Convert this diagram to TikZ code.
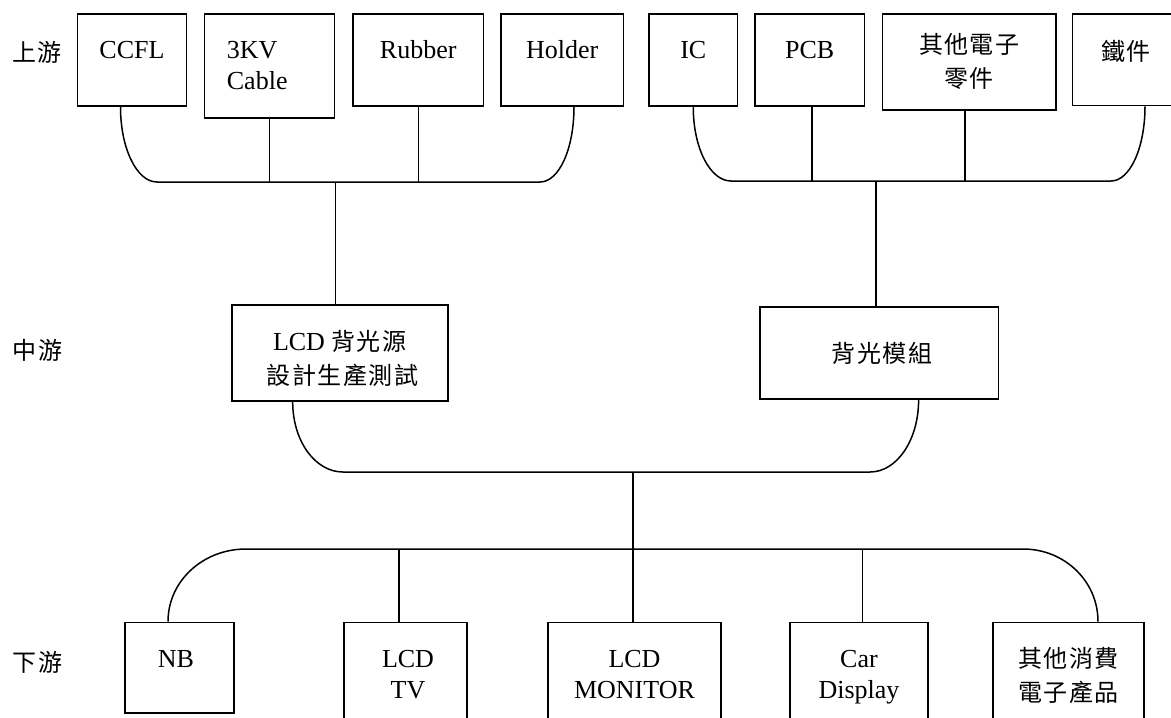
\documentclass[tikz,border=0pt]{standalone}
\usepackage{fontspec}
\setmainfont{Liberation Serif}
\newfontfamily\cjk[LetterSpace=6]{Noto Sans CJK TC}
\newcommand\zhtxt[1]{{\cjk\fontsize{24}{30}\selectfont #1}}
\begin{document}
\begin{tikzpicture}[x=1pt,y=-1pt,
  box/.style={draw, line width=1.8pt, inner sep=0pt},
  link/.style={line width=1.5pt},
  lat/.style={font=\fontsize{26}{31}\selectfont, inner sep=0pt, anchor=base},
  cj/.style={font=\cjk\fontsize{24}{30}\selectfont, inner sep=0pt, anchor=base}]
\useasboundingbox (0,0) rectangle (1171,718);
\fill[white] (0,0) rectangle (1171,718);
\clip (0,0) rectangle (1171,718);

% upstream boxes
\node[box, minimum width=109pt,   minimum height=92pt]  (ccfl) at (132,60) {};
\node[box, minimum width=130pt,   minimum height=104pt] (kv)   at (269.5,66) {};
\node[box, minimum width=130.5pt, minimum height=92pt]  (rub)  at (418.25,60) {};
\node[box, minimum width=122.5pt, minimum height=92pt]  (hold) at (562.25,60) {};
\node[box, minimum width=88.5pt,  minimum height=92pt]  (ic)   at (693.25,60) {};
\node[box, minimum width=109.5pt, minimum height=92pt]  (pcb)  at (809.75,60) {};
\node[box, minimum width=173.5pt, minimum height=96pt]  (oth)  at (969.25,62) {};
\node[box, minimum width=107.5pt, minimum height=91.5pt] (iron) at (1126.25,59.75) {};

% midstream boxes
\node[box, minimum width=216pt,   minimum height=96pt]  (lcd)  at (339.7,353) {};
\node[box, minimum width=238.5pt, minimum height=92pt]  (bl)   at (879.25,353) {};

% downstream boxes
\node[box, minimum width=109pt,   minimum height=90.5pt]  (nb)   at (179.5,667.75) {};
\node[box, minimum width=122.7pt, minimum height=107.5pt] (tv)   at (405.35,676.25) {};
\node[box, minimum width=173pt,   minimum height=107.5pt] (mon)  at (634.5,676.25) {};
\node[box, minimum width=138pt,   minimum height=107.5pt] (car)  at (859,676.25) {};
\node[box, minimum width=151.3pt, minimum height=107.5pt] (oth2) at (1068.35,676.25) {};

% texts
\node[cj] (l1) at (37,61) {上游};
\node[cj] (l2) at (37.5,359) {中游};
\node[cj] (l3) at (37.5,671) {下游};

\node[lat] (t1) at (132,58) {CCFL};
\node[lat, anchor=base west] (t2a) at (226.7,58) {3KV};
\node[lat, anchor=base west] (t2b) at (226.7,89) {Cable};
\node[lat] (t3) at (418.25,58) {Rubber};
\node[lat] (t4) at (562.25,58) {Holder};
\node[lat] (t5) at (693.25,58) {IC};
\node[lat] (t6) at (809.75,58) {PCB};
\node[cj] (t7a) at (969.25,53) {其他電子};
\node[cj] (t7b) at (969.25,87) {零件};
\node[cj] (t8) at (1126.25,60) {鐵件};

\node[lat] (t9a) at (339.7,350) {LCD \zhtxt{背光源}};
\node[cj] (t9b) at (342.5,384) {設計生產測試};
\node[cj] (t10) at (882,362) {背光模組};

\node[lat] (t11) at (176,667) {NB};
\node[lat] (t12a) at (408,667) {LCD};
\node[lat] (t12b) at (408,698) {TV};
\node[lat] (t13a) at (634.5,667) {LCD};
\node[lat] (t13b) at (634.5,698) {MONITOR};
\node[lat] (t14a) at (859,667) {Car};
\node[lat] (t14b) at (859,698) {Display};
\node[cj] (t15a) at (1068.35,667) {其他消費};
\node[cj] (t15b) at (1068.35,701) {電子產品};

% junction coordinates
\coordinate (tl1) at (157,182);
\coordinate (tl2) at (540,182);
\coordinate (tlm) at (335.6,182);
\coordinate (tr1) at (731,181);
\coordinate (tr2) at (1111,181);
\coordinate (trm) at (876,181);
\coordinate (m1) at (343,472);
\coordinate (m2) at (870,472);
\coordinate (mm) at (633,472);
\coordinate (b1) at (246,549);
\coordinate (b2) at (1023,549);

% upstream left bracket
\draw[link] ([xshift=-11.5pt]ccfl.south) .. controls +(0,42) and +(-20,0) .. (tl1)
  -- (tl2) .. controls +(19,0) and +(0,42) .. ([xshift=11.75pt]hold.south);
\draw[link] (kv.south) -- (kv.south |- tl1);
\draw[link] (rub.south) -- (rub.south |- tl1);
\draw[link] (tlm) -- (tlm |- lcd.north);

% upstream right bracket
\draw[link] (ic.south) .. controls +(0,41.4) and +(-20.8,0) .. (tr1)
  -- (tr2) .. controls +(18.8,0) and +(0,41.7) .. ([xshift=18.75pt]iron.south);
\draw[link] ([xshift=2.25pt]pcb.south) -- ([xshift=2.25pt]pcb.south |- tr1);
\draw[link] ([xshift=-4.25pt]oth.south) -- ([xshift=-4.25pt]oth.south |- tr1);
\draw[link] (trm) -- (trm |- bl.north);

% midstream bracket
\draw[link] ([xshift=-47pt]lcd.south) .. controls +(0,39.2) and +(-27.8,0) .. (m1)
  -- (m2) .. controls +(26.8,0) and +(0,40.3) .. ([xshift=39.35pt]bl.south);
\draw[link] (mm) -- (mm |- mon.north);

% downstream bracket
\draw[link] ([xshift=-11.5pt]nb.north) .. controls +(0,-40.6) and +(-43,0) .. (b1)
  -- (b2) .. controls +(41.4,0) and +(0,-40.6) .. ([xshift=29.65pt]oth2.north);
\draw[link] ([xshift=-6.35pt]tv.north) -- ([xshift=-6.35pt]tv.north |- b1);
\draw[link] ([xshift=3.6pt]car.north) -- ([xshift=3.6pt]car.north |- b1);
\end{tikzpicture}
\end{document}
